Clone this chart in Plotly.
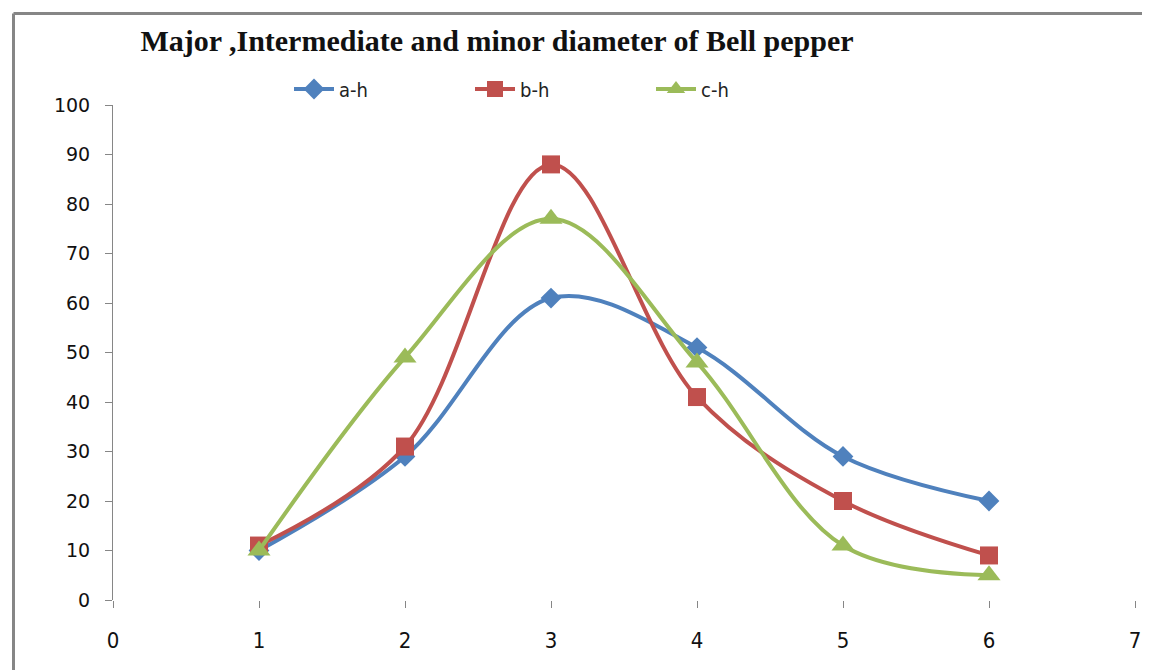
import plotly.graph_objects as go

x_vals = [1, 2, 3, 4, 5, 6]
a_h = [10, 29, 61, 51, 29, 20]
b_h = [11, 31, 88, 41, 20, 9]
c_h = [10, 49, 77, 48, 11, 5]
series_names = ["a-h", "b-h", "c-h"]
x_ticks = [0, 1, 2, 3, 4, 5, 6, 7]
y_ticks = [0, 10, 20, 30, 40, 50, 60, 70, 80, 90, 100]
title_text = "Major ,Intermediate and minor diameter of Bell pepper"

colors = ["#4F81BD", "#C0504D", "#9BBB59"]
symbols = ["diamond", "square", "triangle-up"]
sizes = [16, 18, 20]

narrow = "DejaVu Sans Condensed, Liberation Sans Narrow, Arial Narrow, sans-serif"

W, H = 1142, 662  # page body has an 8px margin
L, R, T, B = 105, 15, 97, 70

fig = go.Figure()
for name, ys, col, sym, sz in zip(series_names, [a_h, b_h, c_h], colors, symbols, sizes):
    fig.add_trace(go.Scatter(
        x=x_vals, y=ys, name=name, mode="lines+markers",
        line=dict(color=col, width=4, shape="spline", smoothing=1.0),
        marker=dict(symbol=sym, size=sz, color=col, line=dict(width=0)),
    ))

fig.update_layout(
    width=W, height=H,
    margin=dict(l=L, r=R, t=T, b=B, autoexpand=False),
    paper_bgcolor="white", plot_bgcolor="white",
    showlegend=True,
    legend=dict(orientation="h", x=281 / W, xref="container", xanchor="left",
                y=1 - 81 / H, yref="container", yanchor="middle",
                font=dict(family=narrow, size=20, color="#222"),
                entrywidth=126, itemwidth=40, bgcolor="rgba(0,0,0,0)"),
    title=dict(text="<b>" + title_text + "</b>", x=489 / W, y=1 - 32 / H,
               xref="container", yref="container", xanchor="center", yanchor="middle",
               font=dict(family="Liberation Serif, Times New Roman, serif", size=30, color="#111")),
)

fig.update_xaxes(range=[0, 7], tickvals=x_ticks, ticktext=[str(t) for t in x_ticks],
                 showgrid=False, zeroline=False, showline=False,
                 ticks="outside", ticklen=7, tickcolor="#868686", tickwidth=1,
                 ticklabelstandoff=14,
                 tickfont=dict(family=narrow, size=22, color="#111"))
fig.update_yaxes(range=[0, 100], tickvals=y_ticks, showgrid=False, zeroline=False,
                 showline=True, linecolor="#868686", linewidth=1,
                 ticks="outside", ticklen=7, tickcolor="#868686", tickwidth=1,
                 ticklabelstandoff=11,
                 tickfont=dict(family="Verdana, DejaVu Sans, sans-serif", size=19, color="#111"))

# chart border (top and left edges visible)
pw = W - L - R
ph = H - T - B
bx = (5.5 - L) / pw
by = 1 + (T - 5.5) / ph
fig.add_shape(type="line", xref="paper", yref="paper",
              x0=bx, x1=1.2, y0=by, y1=by,
              line=dict(color="#868686", width=3))
fig.add_shape(type="line", xref="paper", yref="paper",
              x0=bx, x1=bx, y0=by, y1=-0.3,
              line=dict(color="#868686", width=3))

fig.write_html("out.html")
